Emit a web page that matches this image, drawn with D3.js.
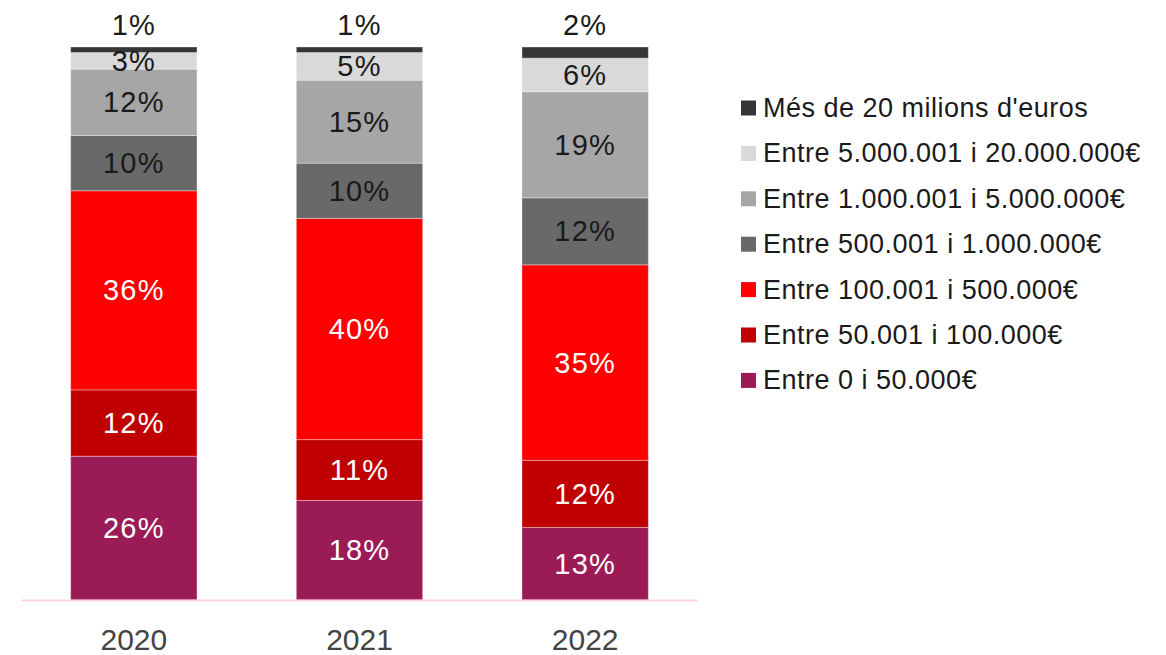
<!DOCTYPE html>
<html>
<head>
<meta charset="utf-8">
<script src="https://cdn.jsdelivr.net/npm/d3@7"></script>
<style>
  body { margin: 0; background: #fff; }
  svg { display: block; font-family: "Liberation Sans", Arial, Helvetica, sans-serif; }
</style>
</head>
<body>
<svg id="chart" width="1166" height="655"></svg>
<script>
const years = ["2020", "2021", "2022"];

// series from bottom to top of each bar
const seriesNames = [
  "Entre 0 i 50.000€",
  "Entre 50.001 i 100.000€",
  "Entre 100.001 i 500.000€",
  "Entre 500.001 i 1.000.000€",
  "Entre 1.000.001 i 5.000.000€",
  "Entre 5.000.001 i 20.000.000€",
  "Més de 20 milions d'euros",
];
const seriesColors = ["#9b1b56", "#c00000", "#ff0000", "#696969", "#a6a6a6", "#d9d9d9", "#363636"];
const labelColors = ["#fff", "#fff", "#fff", "#1a1a1a", "#1a1a1a", "#1a1a1a", "#1a1a1a"];

// percentages per year, one array per series
const share0to50k = [26, 18, 13];
const share50kto100k = [12, 11, 12];
const share100kto500k = [36, 40, 35];
const share500kto1m = [10, 10, 12];
const share1mto5m = [12, 15, 19];
const share5mto20m = [3, 5, 6];
const shareOver20m = [1, 1, 2];

const seriesValues = [share0to50k, share50kto100k, share100kto500k, share500kto1m, share1mto5m, share5mto20m, shareOver20m];

const rows = years.map((year, i) => {
  const row = { year };
  seriesNames.forEach((name, s) => { row[name] = seriesValues[s][i]; });
  return row;
});

const svg = d3.select("#chart");

const x = d3.scaleBand().domain(years).range([21, 698]).paddingInner(0.44).paddingOuter(0.22);
const y = d3.scaleLinear().domain([0, 1]).range([600, 47]);

const stacked = d3.stack().keys(seriesNames).offset(d3.stackOffsetExpand)(rows);

const layer = svg.selectAll("g.layer")
  .data(stacked)
  .enter()
  .append("g")
  .attr("class", "layer")
  .attr("fill", (d, i) => seriesColors[i]);

layer.selectAll("rect")
  .data((d) => d)
  .enter()
  .append("rect")
  .attr("x", (d) => x(d.data.year))
  .attr("y", (d) => y(d[1]))
  .attr("width", x.bandwidth())
  .attr("height", (d) => y(d[0]) - y(d[1]))
  .attr("stroke", "rgba(255,255,255,0.35)")
  .attr("stroke-width", 1);

// baseline
svg.append("line")
  .attr("x1", 21).attr("x2", 698)
  .attr("y1", y(0) + 0.5).attr("y2", y(0) + 0.5)
  .attr("stroke", "#ffd9d9")
  .attr("stroke-width", 2);

// value labels (top series sits above the bar)
const last = seriesNames.length - 1;
stacked.forEach((s, i) => {
  svg.append("g")
    .selectAll("text")
    .data(s)
    .enter()
    .append("text")
    .attr("x", (d) => x(d.data.year) + x.bandwidth() / 2)
    .attr("y", (d) => i === last ? y(d[1]) - 22 : (y(d[0]) + y(d[1])) / 2)
    .attr("text-anchor", "middle")
    .attr("dominant-baseline", "central")
    .attr("font-size", 29)
    .attr("letter-spacing", 1.2)
    .attr("fill", labelColors[i])
    .text((d) => d.data[s.key] + "%");
});

// year axis
const xAxis = svg.append("g")
  .attr("transform", `translate(0,${y(0)})`)
  .call(d3.axisBottom(x).tickSize(0).tickPadding(29));
xAxis.select(".domain").remove();
xAxis.selectAll("text")
  .attr("font-size", 30)
  .attr("font-family", "\"Liberation Sans\", Arial, sans-serif")
  .attr("fill", "#444");

// legend, top series first
const legend = svg.append("g").attr("transform", "translate(741,108)");
const legendItems = legend.selectAll("g")
  .data(d3.range(last, -1, -1))
  .enter()
  .append("g")
  .attr("transform", (d, j) => `translate(0,${j * 45.4})`);
legendItems.append("rect")
  .attr("x", 0).attr("y", -7.5)
  .attr("width", 15).attr("height", 15)
  .attr("fill", (i) => seriesColors[i]);
legendItems.append("text")
  .attr("x", 22)
  .attr("y", 0)
  .attr("dominant-baseline", "central")
  .attr("font-size", 27)
  .attr("letter-spacing", 0.5)
  .attr("fill", "#1a1a1a")
  .text((i) => seriesNames[i]);
</script>
</body>
</html>
